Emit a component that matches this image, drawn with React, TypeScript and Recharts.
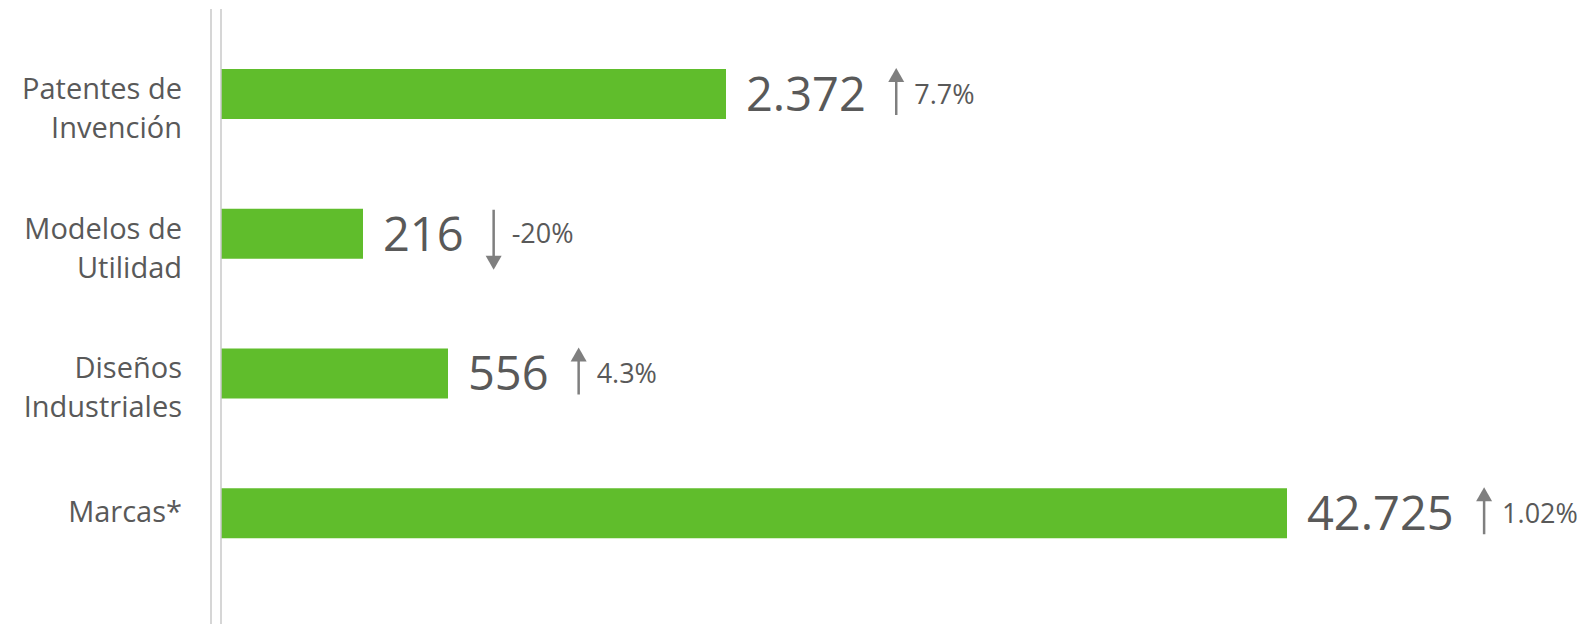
import React from 'react';
import { BarChart, Bar, XAxis, YAxis, LabelList } from 'recharts';

const categories = ['Patentes de Invención', 'Modelos de Utilidad', 'Diseños Industriales', 'Marcas*'];
const categoryLines = [['Patentes de', 'Invención'], ['Modelos de', 'Utilidad'], ['Diseños', 'Industriales'], ['Marcas*']];
// displayed bar lengths (chart is not drawn to scale)
const barLengths = [505, 142, 227, 1066];
const valueLabels = ['2.372', '216', '556', '42.725'];
const changeLabels = ['7.7%', '-20%', '4.3%', '1.02%'];
const changeDirections = ['up', 'down', 'up', 'up'];

const data = categories.map((name, i) => ({ name, len: barLengths[i] }));

const FONT = '"Open Sans", "Noto Sans", sans-serif';
const TEXT = '#595959';
const ARROW = '#7f7f7f';
const LINE = '#c9c9c9';
const GREEN = '#60bd2c';

const estWidth = (s: string, fs: number) => {
  let w = 0;
  for (const c of s) {
    if (c === '.') w += 0.27;
    else if (c === '%') w += 0.84;
    else if (c === '-') w += 0.32;
    else w += 0.572;
  }
  return w * fs;
};

const CategoryTick = (props: any) => {
  const { x, y, index } = props;
  const lines = categoryLines[index] || [];
  const offsets = lines.length === 2 ? [5, 44] : [9];
  return (
    <g>
      {lines.map((l, k) => (
        <text key={k} x={x} y={y + offsets[k]} textAnchor="end" fontFamily={FONT} fontSize={29} fill={TEXT}>
          {l}
        </text>
      ))}
    </g>
  );
};

const ValueLabel = (props: any) => {
  const { x, y, width, height, index } = props;
  const cy = y + height / 2;
  const vx = x + width + 20;
  const vfs = 47;
  const val = valueLabels[index];
  const ax = vx + estWidth(val, vfs) + 30;
  const dir = changeDirections[index];
  const pfs = 27;
  let arrow;
  if (dir === 'up') {
    const tip = cy - 26;
    const tail = cy + 21;
    arrow = (
      <g>
        <line x1={ax} y1={tail} x2={ax} y2={tip + 12} stroke={ARROW} strokeWidth={2.5} />
        <polygon points={`${ax},${tip} ${ax - 8},${tip + 14} ${ax + 8},${tip + 14}`} fill={ARROW} />
      </g>
    );
  } else {
    const tail = cy - 24;
    const tip = cy + 36;
    arrow = (
      <g>
        <line x1={ax} y1={tail} x2={ax} y2={tip - 12} stroke={ARROW} strokeWidth={2.5} />
        <polygon points={`${ax},${tip} ${ax - 8},${tip - 14} ${ax + 8},${tip - 14}`} fill={ARROW} />
      </g>
    );
  }
  return (
    <g>
      <text x={vx} y={cy + 0.36 * vfs} fontFamily={FONT} fontSize={vfs} fill={TEXT}>
        {val}
      </text>
      {arrow}
      <text x={ax + 18} y={cy + 0.36 * pfs} fontFamily={FONT} fontSize={pfs} fill={TEXT}>
        {changeLabels[index]}
      </text>
    </g>
  );
};

export default function App() {
  return (
    <BarChart
      width={1577}
      height={616}
      data={data}
      layout="vertical"
      margin={{ top: 1, right: 264, bottom: 0, left: 0 }}
    >
      <XAxis type="number" domain={[0, 1100]} hide />
      <YAxis
        yAxisId="main"
        type="category"
        dataKey="name"
        width={10}
        tick={false}
        tickLine={false}
        axisLine={{ stroke: LINE, strokeWidth: 1.5 }}
        padding={{ top: 15, bottom: 41 }}
      />
      <YAxis
        yAxisId="outer"
        type="category"
        dataKey="name"
        width={203}
        tickLine={false}
        tickSize={0}
        tickMargin={29}
        tick={<CategoryTick />}
        axisLine={{ stroke: LINE, strokeWidth: 1.5 }}
        padding={{ top: 15, bottom: 41 }}
      />
      <Bar yAxisId="main" dataKey="len" fill={GREEN} barSize={50} isAnimationActive={false}>
        <LabelList dataKey="len" content={<ValueLabel />} />
      </Bar>
    </BarChart>
  );
}
